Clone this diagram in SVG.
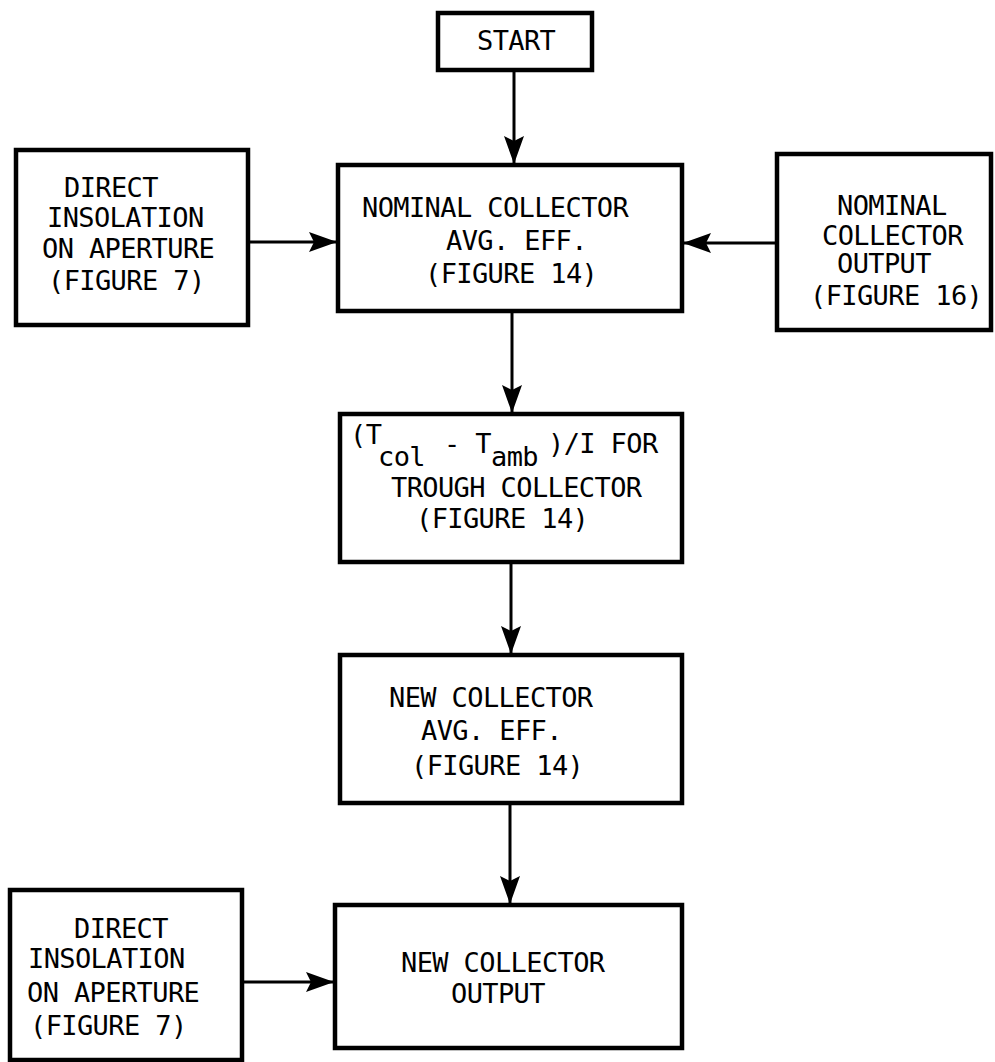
<svg xmlns="http://www.w3.org/2000/svg" width="995" height="1062" viewBox="0 0 995 1062">
<style>
.box{fill:#fff;stroke:#000;stroke-width:4.5}
.lbl{font-family:"DejaVu Sans Mono","Liberation Mono",monospace;font-size:27px;letter-spacing:-0.6px;fill:#000}
.conn{stroke:#000;stroke-width:3;fill:none;marker-end:url(#ah)}
</style>
<defs>
<marker id="ah" markerUnits="userSpaceOnUse" markerWidth="30" markerHeight="22" refX="28" refY="10" orient="auto">
<path d="M0,0 L28,10 L0,20 L5,10 z" fill="#000"/>
</marker>
</defs>
<g id="connectors">
<line class="conn" x1="514" y1="70" x2="514" y2="164"/>
<line class="conn" x1="248" y1="242" x2="337" y2="242"/>
<line class="conn" x1="777" y1="243" x2="683" y2="243"/>
<line class="conn" x1="512" y1="311" x2="512" y2="413"/>
<line class="conn" x1="511" y1="562" x2="511" y2="654"/>
<line class="conn" x1="510" y1="803" x2="510" y2="904"/>
<line class="conn" x1="242" y1="982" x2="334" y2="982"/>
</g>
<g id="start">
<rect class="box" x="438" y="13" width="154" height="57"/>
<text class="lbl" x="477" y="50">START</text>
</g>
<g id="direct-insolation-1">
<rect class="box" x="16" y="150" width="232" height="175"/>
<text class="lbl"><tspan x="64" y="197">DIRECT</tspan><tspan x="47" y="227">INSOLATION</tspan><tspan x="42" y="258">ON APERTURE</tspan><tspan x="48" y="290">(FIGURE 7)</tspan></text>
</g>
<g id="nominal-eff">
<rect class="box" x="338" y="165" width="344" height="146"/>
<text class="lbl"><tspan x="362" y="217">NOMINAL COLLECTOR</tspan><tspan x="446" y="250">AVG. EFF.</tspan><tspan x="425" y="283">(FIGURE 14)</tspan></text>
</g>
<g id="nominal-output">
<rect class="box" x="777" y="154" width="214" height="176"/>
<text class="lbl"><tspan x="837" y="215">NOMINAL</tspan><tspan x="822" y="245">COLLECTOR</tspan><tspan x="837" y="273">OUTPUT</tspan><tspan x="810" y="305">(FIGURE 16)</tspan></text>
</g>
<g id="temp-ratio">
<rect class="box" x="340" y="414" width="342" height="148"/>
<text class="lbl"><tspan x="350" y="444">(T</tspan><tspan x="378" y="466">col</tspan><tspan x="444" y="453">- T</tspan><tspan x="491" y="466">amb</tspan><tspan x="548" y="453">)/I FOR</tspan><tspan x="391" y="497">TROUGH COLLECTOR</tspan><tspan x="416" y="528">(FIGURE 14)</tspan></text>
</g>
<g id="new-eff">
<rect class="box" x="340" y="655" width="342" height="148"/>
<text class="lbl"><tspan x="389" y="707">NEW COLLECTOR</tspan><tspan x="421" y="740">AVG. EFF.</tspan><tspan x="411" y="775">(FIGURE 14)</tspan></text>
</g>
<g id="direct-insolation-2">
<rect class="box" x="10" y="890" width="232" height="170"/>
<text class="lbl"><tspan x="74" y="938">DIRECT</tspan><tspan x="28" y="968">INSOLATION</tspan><tspan x="27" y="1002">ON APERTURE</tspan><tspan x="30" y="1035">(FIGURE 7)</tspan></text>
</g>
<g id="new-output">
<rect class="box" x="335" y="905" width="347" height="143"/>
<text class="lbl"><tspan x="401" y="972">NEW COLLECTOR</tspan><tspan x="451" y="1003">OUTPUT</tspan></text>
</g>
</svg>
